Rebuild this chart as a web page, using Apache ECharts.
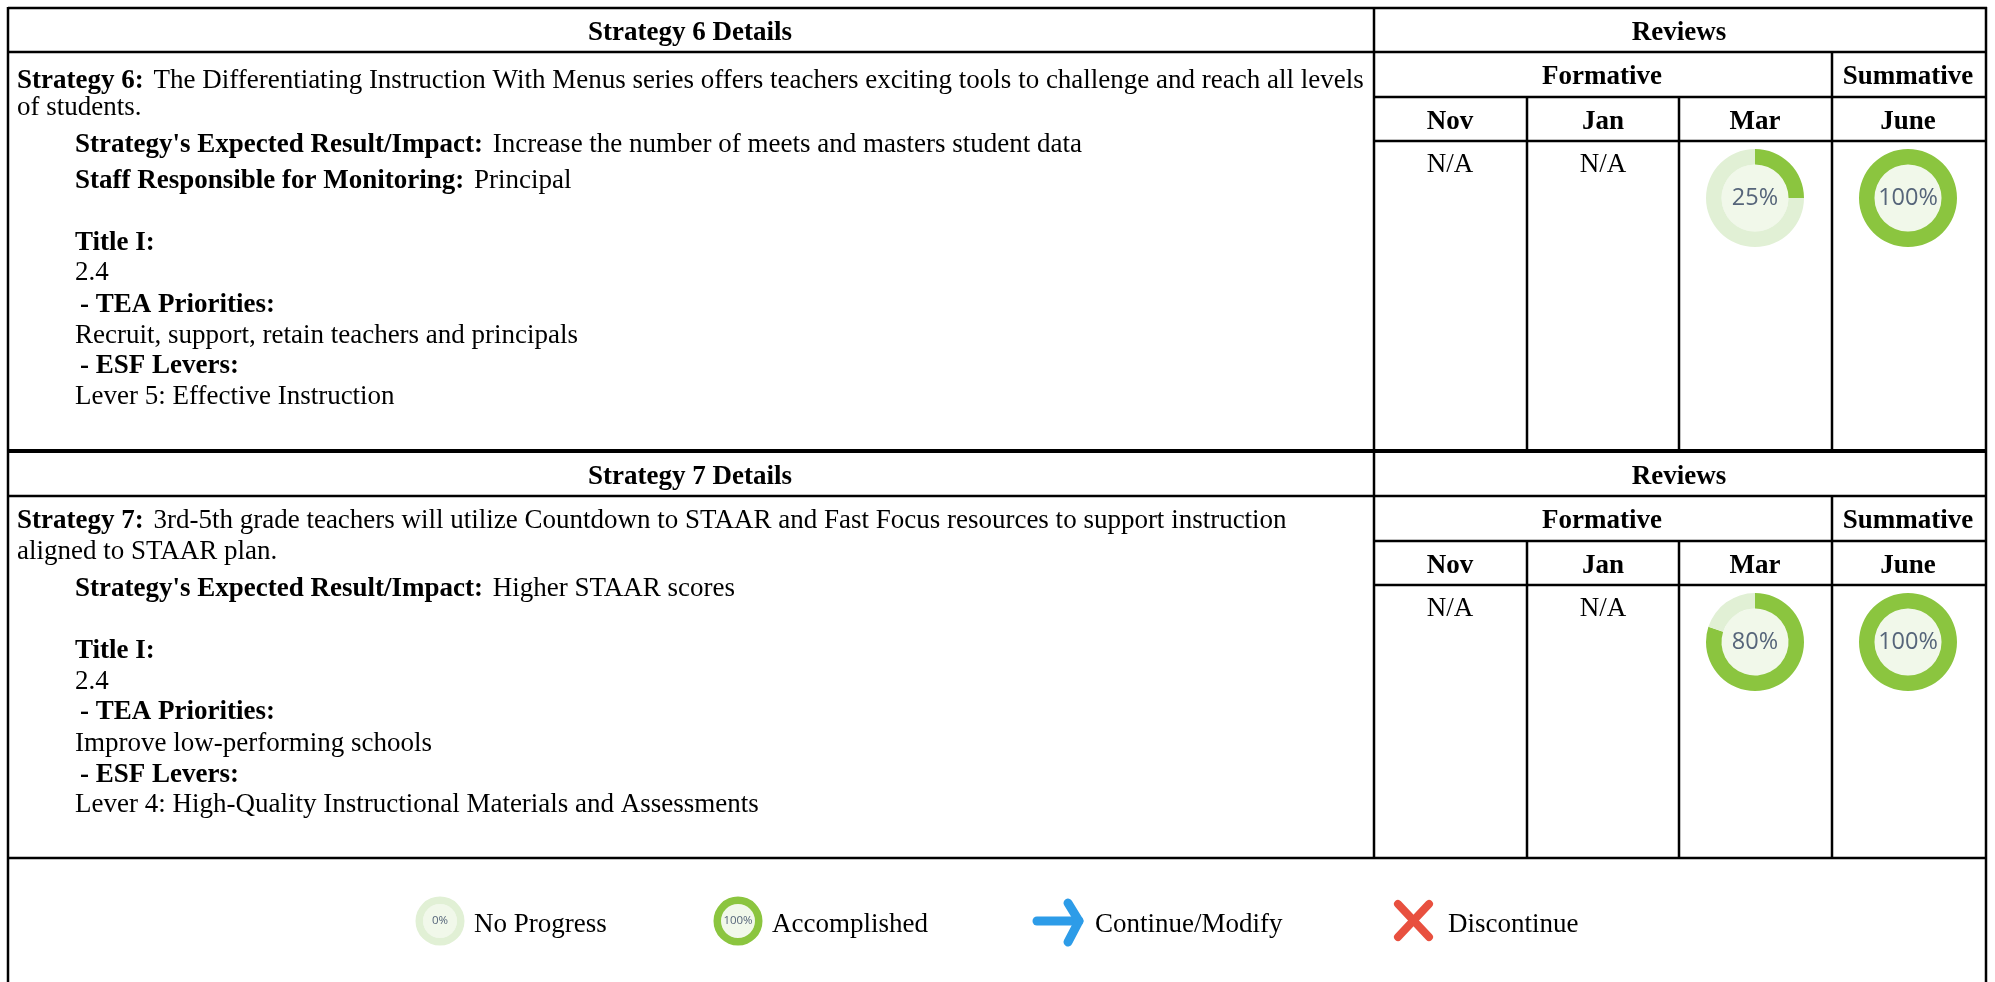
<!DOCTYPE html>
<html>
<head>
<meta charset="utf-8">
<title>Strategy Details</title>
<style>
    html, body { margin: 0; padding: 0; background: #fff; }
    #chartBox { width: 1995px; height: 982px; }
</style>
<script src="https://cdn.jsdelivr.net/npm/echarts@6/dist/echarts.min.js"></script>
</head>
<body>
<div id="chartBox"></div>
<script>
    // table text, [bold part, normal part]
    var strategy6Lines = [
        ['Strategy 6:', ' The Differentiating Instruction With Menus series offers teachers exciting tools to challenge and reach all levels'],
        ['', 'of students.'],
        ["Strategy's Expected Result/Impact:", ' Increase the number of meets and masters student data'],
        ['Staff Responsible for Monitoring:', ' Principal'],
        ['Title I:', ''],
        ['', '2.4'],
        ['- TEA Priorities:', ''],
        ['', 'Recruit, support, retain teachers and principals'],
        ['- ESF Levers:', ''],
        ['', 'Lever 5: Effective Instruction']
    ];
    var strategy7Lines = [
        ['Strategy 7:', ' 3rd-5th grade teachers will utilize Countdown to STAAR and Fast Focus resources to support instruction'],
        ['', 'aligned to STAAR plan.'],
        ["Strategy's Expected Result/Impact:", ' Higher STAAR scores'],
        ['Title I:', ''],
        ['', '2.4'],
        ['- TEA Priorities:', ''],
        ['', 'Improve low-performing schools'],
        ['- ESF Levers:', ''],
        ['', 'Lever 4: High-Quality Instructional Materials and Assessments']
    ];
    var months = ['Nov', 'Jan', 'Mar', 'June'];
    var strategy6Reviews = ['N/A', 'N/A', 25, 100];
    var strategy7Reviews = ['N/A', 'N/A', 80, 100];
    var legendNames = ['No Progress', 'Accomplished', 'Continue/Modify', 'Discontinue'];
    var legendProgress = [0, 100];

    var FONT = '"Liberation Serif", serif';
    var FONT_SIZE = 27;
    var GREEN = '#8bc53f', PALE = '#e1f0d5', DISC = '#f1f8ea';

    // layout of the table
    var colX = [1374, 1527, 1679, 1832, 1986];
    var monthCenters = [1450, 1603, 1755, 1908];
    var left6 = [80, 107, 144, 180, 242, 272, 304, 335, 365, 396];
    var left7 = [520, 551, 588, 650, 681, 711, 743, 774, 804];

    var graphics = [];

    function addLine(x1, y1, x2, y2, w) {
        graphics.push({
            type: 'line', silent: true,
            shape: { x1: x1, y1: y1, x2: x2, y2: y2 },
            style: { stroke: '#000', lineWidth: w || 2.5 }
        });
    }
    function addText(text, x, y, bold, align) {
        graphics.push({
            type: 'text', silent: true, x: x, y: y,
            style: {
                text: text, fill: '#000', align: align || 'left', verticalAlign: 'middle',
                font: (bold ? 'bold ' : '') + FONT_SIZE + 'px ' + FONT
            }
        });
    }
    function addRich(line, x, y) {
        var txt = '';
        if (line[0]) txt += '{b|' + line[0] + '}';
        if (line[1]) txt += (line[0] ? '{g|' : '{n|') + line[1] + '}';
        graphics.push({
            type: 'text', silent: true, x: x, y: y,
            style: {
                text: txt, align: 'left', verticalAlign: 'middle',
                rich: {
                    b: { fontFamily: FONT, fontSize: FONT_SIZE, fontWeight: 'bold', fill: '#000' },
                    n: { fontFamily: FONT, fontSize: FONT_SIZE, fill: '#000' },
                    // normal text after a bold lead-in sits a little further out
                    g: { fontFamily: FONT, fontSize: FONT_SIZE, fill: '#000', padding: [0, 0, 0, 3] }
                }
            }
        });
    }

    var series = [];
    function addDonut(pct, cx, cy, r, rIn, labelSize) {
        // pale disc in the middle carrying the number
        series.push({
            type: 'pie', silent: true, animation: false,
            center: [cx, cy], radius: [0, rIn],
            data: [{ value: pct, itemStyle: { color: DISC } }],
            label: { show: true, position: 'center', formatter: '{c}%', color: '#56657a',
                fontFamily: '"Open Sans", sans-serif', fontSize: labelSize },
            labelLine: { show: false }
        });
        series.push({
            type: 'pie', silent: true, animation: false, startAngle: 90,
            center: [cx, cy], radius: [rIn, r],
            data: [
                { value: pct, itemStyle: { color: GREEN } },
                { value: 100 - pct, itemStyle: { color: PALE } }
            ],
            label: { show: false }, labelLine: { show: false }
        });
    }

    function drawBlock(title, lines, lineYs, reviews, top) {
        // top = [header bottom, formative bottom, month bottom, block bottom]
        addLine(8, top[0], 1986, top[0]);
        addLine(colX[0], top[1], 1986, top[1]);
        addLine(colX[0], top[2], 1986, top[2]);
        addLine(colX[0], top[0], colX[0], top[3]);
        addLine(colX[3], top[0], colX[3], top[3]);
        addLine(colX[1], top[1], colX[1], top[3]);
        addLine(colX[2], top[1], colX[2], top[3]);
        addText(title, 690, top[0] - 19, true, 'center');
        addText('Reviews', 1679, top[0] - 19, true, 'center');
        addText('Formative', 1602, top[0] + 25, true, 'center');
        addText('Summative', 1908, top[0] + 25, true, 'center');
        for (var m = 0; m < months.length; m++) {
            addText(months[m], monthCenters[m], top[1] + 25, true, 'center');
            if (typeof reviews[m] === 'number') {
                addDonut(reviews[m], monthCenters[m], top[2] + 57, 49, 33.5, 23.5);
            } else {
                addText(reviews[m], monthCenters[m], top[2] + 24, false, 'center');
            }
        }
        for (var i = 0; i < lines.length; i++) {
            var x = i < 2 ? 17 : 75;
            if (lines[i][0].charAt(0) === '-') x = 80;
            addRich(lines[i], x, lineYs[i] + 1);
        }
    }

    // outer frame, open at the bottom
    addLine(8, 8, 1987, 8);
    addLine(8, 7, 8, 982);
    addLine(1986, 7, 1986, 982);
    addLine(colX[0], 8, colX[0], 52);
    addLine(colX[0], 451, colX[0], 496);
    addLine(8, 451, 1987, 451, 4);
    addLine(8, 858, 1987, 858);

    drawBlock('Strategy 6 Details', strategy6Lines, left6, strategy6Reviews, [52, 97, 141, 451]);
    drawBlock('Strategy 7 Details', strategy7Lines, left7, strategy7Reviews, [496, 541, 585, 858]);

    // legend row
    addDonut(legendProgress[0], 440, 921, 24.5, 17, 11.5);
    addDonut(legendProgress[1], 738, 921, 24.5, 17, 11.5);
    addText(legendNames[0], 474, 925);
    addText(legendNames[1], 772, 925);
    addText(legendNames[2], 1095, 925);
    addText(legendNames[3], 1448, 925);
    graphics.push({
        type: 'polyline', silent: true,
        shape: { points: [[1037, 921], [1079, 921]] },
        style: { stroke: '#2d9ce8', lineWidth: 9, lineCap: 'round', fill: null }
    });
    graphics.push({
        type: 'polyline', silent: true,
        shape: { points: [[1068, 903], [1079, 921], [1068, 942]] },
        style: { stroke: '#2d9ce8', lineWidth: 9, lineCap: 'round', lineJoin: 'round', fill: null }
    });
    graphics.push({
        type: 'line', silent: true, shape: { x1: 1398, y1: 904, x2: 1429, y2: 937 },
        style: { stroke: '#e8503f', lineWidth: 8, lineCap: 'round' }
    });
    graphics.push({
        type: 'line', silent: true, shape: { x1: 1429, y1: 904, x2: 1398, y2: 937 },
        style: { stroke: '#e8503f', lineWidth: 8, lineCap: 'round' }
    });

    var chart = echarts.init(document.getElementById('chartBox'));
    var option = {
        animation: false,
        backgroundColor: '#fff',
        graphic: graphics,
        series: series
    };
    chart.setOption(option);
</script>
</body>
</html>
